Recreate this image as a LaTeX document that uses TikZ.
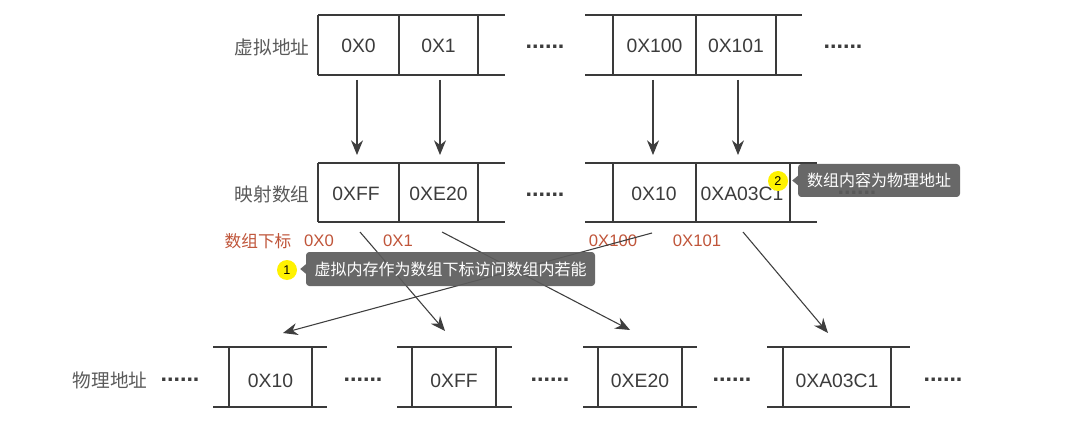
\documentclass[tikz,border=0pt]{standalone}
\usepackage{fontspec}
\setmainfont{Liberation Sans}
\newfontfamily\cjk{Noto Sans CJK SC}
\usetikzlibrary{arrows.meta,calc}
\definecolor{linec}{HTML}{3A3A3A}
\definecolor{txtc}{HTML}{3C3C3C}
\definecolor{lblc}{HTML}{5A5A5A}
\definecolor{redc}{HTML}{C0553A}
\definecolor{arrc}{HTML}{3E3E3E}
\definecolor{tipc}{HTML}{5C5C5C}
\begin{document}
\begin{tikzpicture}[x=0.75pt,y=-0.75pt,
  rowline/.style={draw=linec, line width=0.9pt},
  cell/.style={text=txtc, font=\fontsize{14.5}{16}\selectfont, inner sep=0pt},
  lbl/.style={text=lblc, font=\cjk\fontsize{14}{16}\selectfont, inner sep=0pt},
  idx/.style={text=redc, font=\fontsize{12.5}{14}\selectfont, inner sep=0pt},
  idxc/.style={text=redc, font=\cjk\fontsize{12.5}{14}\selectfont, inner sep=0pt},
  dotsx/.style={text=txtc, font=\bfseries\fontsize{17.5}{18}\selectfont, inner sep=0pt},
  arr/.style={draw=arrc, line width=0.8pt, -{Stealth[length=11pt,width=9pt]}},
  tipbox/.style={fill=tipc, fill opacity=0.92, text opacity=1, text=white, rounded corners=2.5pt,
    font=\cjk\fontsize{12}{14}\selectfont, inner sep=0pt},
  badge/.style={circle, fill=yellow, text=black, minimum size=15pt, inner sep=0pt,
    font=\fontsize{9.5}{10}\selectfont}]
\useasboundingbox (0,0) rectangle (1078,442);
\fill[white] (0,0) rectangle (1078,442);

% ---------- top row: virtual addresses ----------
\draw[rowline] (318,15) -- (505,15) (318,75) -- (505,75);
\draw[rowline] (318,15) -- (318,75) (399,15) -- (399,75) (478,15) -- (478,75);
\draw[rowline] (585,15) -- (802,15) (585,75) -- (802,75);
\draw[rowline] (613,15) -- (613,75) (696,15) -- (696,75) (776,15) -- (776,75);
\node[lbl] (lv) at (272,47) {虚拟地址};
\node[cell] (v0) at (358.5,46) {0X0};
\node[cell] (v1) at (438.5,46) {0X1};
\node[dotsx] (vd1) at (545,47) {......};
\node[cell] (v100) at (654.5,46) {0X100};
\node[cell] (v101) at (736,46) {0X101};
\node[dotsx] (vd2) at (843,47) {......};

% ---------- middle row: mapping array ----------
\draw[rowline] (318,163) -- (505,163) (318,222) -- (505,222);
\draw[rowline] (318,163) -- (318,222) (399,163) -- (399,222) (478,163) -- (478,222);
\draw[rowline] (585,163) -- (817,163) (585,222) -- (817,222);
\draw[rowline] (613,163) -- (613,222) (696,163) -- (696,222) (790,163) -- (790,222);
\node[lbl] (lm) at (272,194) {映射数组};
\node[cell] (m0) at (356,194) {0XFF};
\node[cell] (m1) at (438.5,194) {0XE20};
\node[dotsx] (md1) at (545,195) {......};
\node[cell] (m100) at (654,194) {0X10};
\node[cell] (m101) at (742,194) {0XA03C1};
\node[dotsx] (md2) at (857,193) {......};

% ---------- index labels ----------
\node[idxc] (li) at (258,241) {数组下标};
\node[idx] (i0) at (319,241) {0X0};
\node[idx] (i1) at (398,241) {0X1};
\node[idx] (i100) at (613,241) {0X100};
\node[idx] (i101) at (697,241) {0X101};

% ---------- bottom row: physical addresses ----------
\draw[rowline] (213,347) -- (327,347) (213,407) -- (327,407);
\draw[rowline] (229,347) -- (229,407) (312,347) -- (312,407);
\draw[rowline] (397,347) -- (512,347) (397,407) -- (512,407);
\draw[rowline] (412,347) -- (412,407) (496,347) -- (496,407);
\draw[rowline] (583,347) -- (697,347) (583,407) -- (697,407);
\draw[rowline] (598,347) -- (598,407) (682,347) -- (682,407);
\draw[rowline] (767,347) -- (910,347) (767,407) -- (910,407);
\draw[rowline] (783,347) -- (783,407) (891,347) -- (891,407);
\node[lbl] (lp) at (110,380) {物理地址};
\node[dotsx] (pd0) at (180,380) {......};
\node[cell] (p0) at (270.5,381) {0X10};
\node[dotsx] (pd1) at (363,380) {......};
\node[cell] (p1) at (454,381) {0XFF};
\node[dotsx] (pd2) at (550,380) {......};
\node[cell] (p2) at (640,381) {0XE20};
\node[dotsx] (pd3) at (732,380) {......};
\node[cell] (p3) at (837,381) {0XA03C1};
\node[dotsx] (pd4) at (943,380) {......};

% ---------- vertical arrows ----------
\draw[arr] ($(v0)+(-1.5,34)$) -- ($(m0)+(1,-39)$);
\draw[arr] ($(v1)+(1.5,34)$) -- ($(m1)+(1.5,-39)$);
\draw[arr] ($(v100)+(-1.5,34)$) -- ($(m100)+(-1,-39)$);
\draw[arr] ($(v101)+(2,34)$) -- ($(m101)+(-4,-39)$);

% ---------- diagonal arrows ----------
\draw[arr] ($(m0)+(4,38)$) -- ($(p1)+(-9,-50)$);
\draw[arr] ($(m1)+(3.5,38)$) -- ($(p2)+(-10,-51)$);
\draw[arr] ($(m100)+(-2,39)$) -- ($(p0)+(12.5,-48)$);
\draw[arr] ($(m101)+(1,38)$) -- ($(p3)+(-9,-48)$);

% ---------- callouts ----------
\node[tipbox, minimum width=216.75pt, minimum height=25.5pt] (c1) at (450.5,269) {虚拟内存作为数组下标访问数组内若能};
\fill[tipc, fill opacity=0.92] ($(c1.west)+(0.5,-5)$) -- ($(c1.west)+(-5.5,0)$) -- ($(c1.west)+(0.5,5)$) -- cycle;
\node[badge] (n1) at (287,270) {1};

\node[tipbox, minimum width=121.5pt, minimum height=24.75pt] (c2) at (879,180.5) {数组内容为物理地址};
\fill[tipc, fill opacity=0.92] ($(c2.west)+(0.5,-5)$) -- ($(c2.west)+(-5.5,0)$) -- ($(c2.west)+(0.5,5)$) -- cycle;
\node[badge] (n2) at (778,181) {2};
\end{tikzpicture}
\end{document}
